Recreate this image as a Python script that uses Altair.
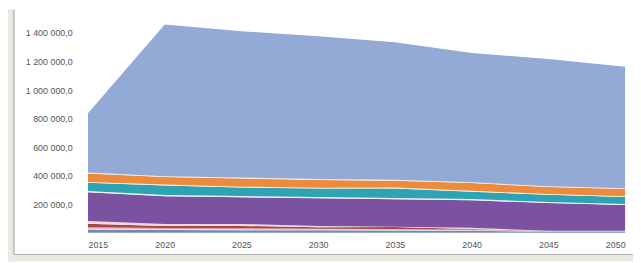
import altair as alt
import pandas as pd

# ---- data (in units) ----
years = [2015, 2020, 2025, 2030, 2035, 2040, 2045, 2050]

series_names = [
    "Série 1", "Série 2", "Série 3", "Série 4", "Série 5", "Série 6",
    "Série 7", "Série 8", "Série 9", "Série 10", "Série 11", "Série 12",
]
s1 = [22000, 20000, 18000, 17000, 16000, 14000, 8000, 8000]
s2 = [7000, 6000, 6000, 5000, 5000, 4000, 2000, 2000]
s3 = [10000, 8000, 8000, 6000, 5000, 5000, 2000, 2000]
s4 = [24000, 14000, 16000, 11000, 14000, 3000, 1000, 1000]
s5 = [20000, 14000, 14000, 9000, 2000, 9000, 1000, 1000]
s6 = [201000, 194000, 187000, 194000, 193000, 193000, 194000, 180000]
s7 = [8000, 8000, 8000, 8000, 8000, 8000, 8000, 8000]
s8 = [58000, 68000, 60000, 60000, 68000, 52000, 50000, 48000]
s9 = [6000, 6000, 6000, 6000, 6000, 6000, 6000, 6000]
s10 = [60000, 52000, 58000, 54000, 48000, 54000, 48000, 50000]
s11 = [6000, 6000, 6000, 6000, 6000, 6000, 6000, 6000]
s12 = [415000, 1064000, 1025000, 1001000, 965000, 906000, 892000, 851000]
all_series = [s1, s2, s3, s4, s5, s6, s7, s8, s9, s10, s11, s12]

colors = [
    "#7089b6", "#e9e4ee", "#d9a2a8", "#a8464a", "#efd7e0", "#7a529f",
    "#eef2f8", "#2ea3b5", "#f3efc8", "#ec8b3d", "#f5e7d6", "#93aad6",
]

y_ticks = [200000, 400000, 600000, 800000, 1000000, 1200000, 1400000]

rows = []
for i, (name, vals) in enumerate(zip(series_names, all_series)):
    for yr, v in zip(years, vals):
        rows.append({"year": yr, "series": name, "value": v, "order": i})
df = pd.DataFrame(rows)

label_expr = "replace(replace(format(datum.value, ',.1f'), /,/g, ' '), '.', ',')"

areas = alt.Chart(df).mark_area(interpolate="linear", opacity=1).encode(
    x=alt.X(
        "year:Q",
        scale=alt.Scale(domain=[2015, 2050], nice=False, zero=False),
        axis=alt.Axis(
            values=years, format="d", title=None, grid=False, ticks=False,
            domain=False, labelPadding=8, labelFontSize=9,
            labelFont="Liberation Sans", labelColor="#555555",
            labelAlign={
                "condition": [
                    {"test": "datum.value == 2015", "value": "left"},
                    {"test": "datum.value == 2050", "value": "right"},
                ],
                "value": "center",
            },
        ),
    ),
    y=alt.Y(
        "value:Q",
        stack="zero",
        scale=alt.Scale(domain=[0, 1564000], nice=False),
        axis=alt.Axis(
            values=y_ticks, title=None, grid=False, ticks=False, domain=False,
            labelPadding=16, labelFontSize=9, labelFont="Liberation Sans",
            labelColor="#555555", labelExpr=label_expr,
        ),
    ),
    color=alt.Color("series:N", scale=alt.Scale(domain=series_names, range=colors), legend=None),
    order=alt.Order("order:Q", sort="ascending"),
)

deco = pd.DataFrame({"k": [0]})
strip = alt.Chart(deco).mark_rect(color="#ece9e2").encode(
    x=alt.value(-81), x2=alt.value(-75), y=alt.value(0), y2=alt.value(255)
)
bottom_strip = alt.Chart(deco).mark_rect(color="#ece9e2").encode(
    x=alt.value(-81), x2=alt.value(560), y=alt.value(248), y2=alt.value(255)
)
edge = alt.Chart(deco).mark_rule(color="#9a9a9a", strokeWidth=1).encode(
    x=alt.value(-75), y=alt.value(0), y2=alt.value(248)
)
bottom_edge = alt.Chart(deco).mark_rule(color="#b0b0b0", strokeWidth=1).encode(
    x=alt.value(-75), x2=alt.value(560), y=alt.value(248)
)

chart = alt.layer(areas, strip, bottom_strip, edge, bottom_edge).properties(
    width=544,
    height=226,
    autosize=alt.AutoSizeParams(type="none"),
    padding={"left": 81, "top": 0, "right": 8, "bottom": 29},
    background="white",
).configure_view(stroke=None)

chart.save("out.html", embed_options={"renderer": "svg", "actions": False})
